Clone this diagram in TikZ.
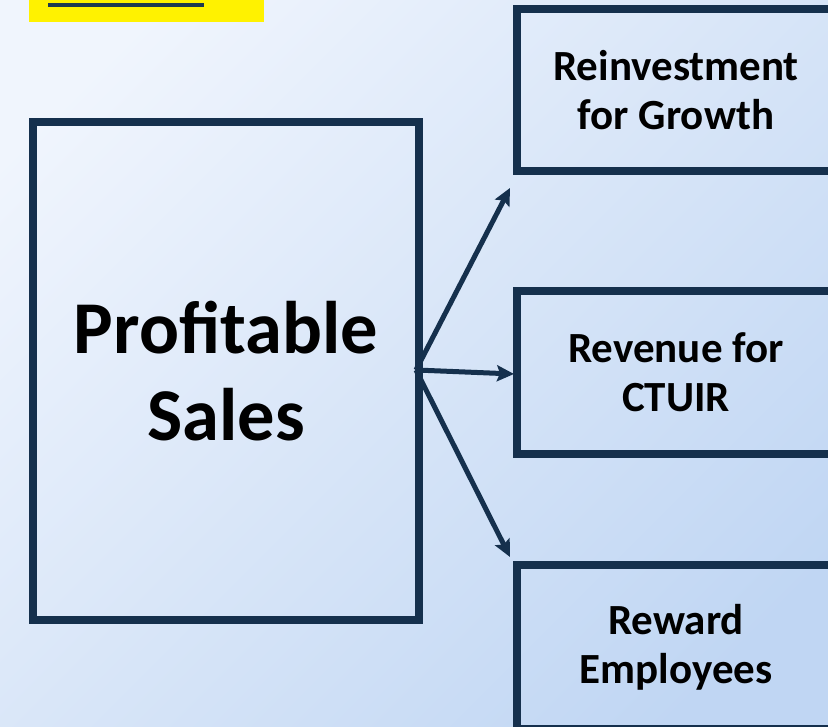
\documentclass[tikz,border=0pt]{standalone}
\usepackage{fontspec}
\setmainfont{Carlito}
\usetikzlibrary{arrows.meta}
\definecolor{navy}{HTML}{15304D}
\definecolor{bgA}{HTML}{F0F5FD}
\definecolor{bgB}{HTML}{C0D6F3}
\definecolor{barline}{HTML}{1E3A50}
\begin{document}
\begin{tikzpicture}[x=1pt,y=-1pt,
  box/.style={draw=navy, line width=8pt, inner sep=0pt, align=center, text=black},
  conn/.style={draw=navy, line width=5pt, -{Stealth[length=17pt,width=16pt,inset=3pt]}},
  bigtext/.style={font=\bfseries\fontsize{74.5}{87}\selectfont},
  smalltext/.style={font=\bfseries\fontsize{43}{49}\selectfont}]
\useasboundingbox (0,0) rectangle (828,727);
\clip (0,0) rectangle (828,727);
\shade[top color=bgA, bottom color=bgB, shading angle=45] (-50,-50) rectangle (878,777);
\fill[yellow] (29,0) rectangle (264,22);
\draw[barline, line width=3.5pt] (48,5) -- (204,5);
\node[box, bigtext, minimum width=386pt, minimum height=498pt] (ps) at (226,371) {Profitable\\Sales};
\node[box, smalltext, minimum width=318pt, minimum height=162.5pt] (r1) at (676,90) {Reinvestment\\for Growth};
\node[box, smalltext, minimum width=318pt, minimum height=163pt] (r2) at (676,372.5) {Revenue for\\CTUIR};
\node[box, smalltext, minimum width=318pt, minimum height=164pt] (r3) at (676,647) {Reward\\Employees};
\coordinate (src) at (416,370);
\coordinate (t1) at (510,188);
\coordinate (t2) at (514,374);
\coordinate (t3) at (510,557);
\draw[conn] (src) -- (t1);
\draw[conn] (src) -- (t2);
\draw[conn] (src) -- (t3);
\end{tikzpicture}
\end{document}
